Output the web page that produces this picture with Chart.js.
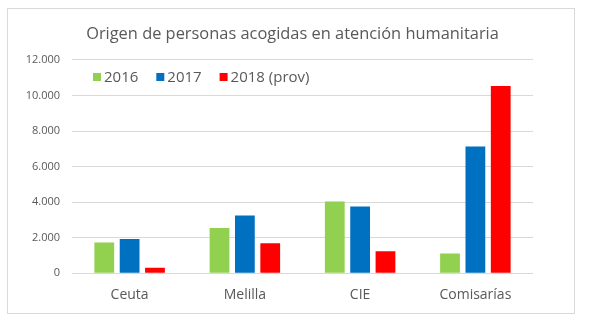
<!DOCTYPE html>
<html>
<head>
<meta charset="utf-8">
<script src="https://cdn.jsdelivr.net/npm/chart.js@4.4.1/dist/chart.umd.min.js"></script>
<style>
  html, body { margin: 0; padding: 0; background: #ffffff; }
  #wrap { position: relative; width: 589px; height: 326px; }
  #frame { position: absolute; left: 7px; top: 8px; width: 566px; height: 304px; border: 1px solid #d9d9d9; pointer-events: none; }
  canvas { position: absolute; left: 0; top: 0; }
</style>
</head>
<body>
<div id="wrap">
  <div id="frame"></div>
  <canvas id="c" width="589" height="326"></canvas>
</div>
<script>
const categories = ['Ceuta', 'Melilla', 'CIE', 'Comisarías'];
const seriesNames = ['2016', '2017', '2018 (prov)'];
const values2016 = [1730, 2540, 4040, 1110];
const values2017 = [1920, 3250, 3760, 7130];
const values2018 = [300, 1690, 1230, 10540];
const seriesColors = ['#92D050', '#0070C0', '#FF0000'];
const yMin = 0, yMax = 12000, yStep = 2000;

const FONT = "'Open Sans', sans-serif";
const TEXT = '#595959';

function fmt(v) {
  return Math.round(v).toString().replace(/\B(?=(\d{3})+(?!\d))/g, '.');
}

const insideLegend = {
  id: 'insideLegend',
  afterDraw(chart) {
    const ctx = chart.ctx;
    const area = chart.chartArea;
    ctx.save();
    ctx.font = '15px ' + FONT;
    ctx.textBaseline = 'middle';
    ctx.textAlign = 'left';
    let x = area.left + 21;
    const y = area.top + 17;
    chart.data.datasets.forEach(ds => {
      ctx.fillStyle = ds.backgroundColor;
      ctx.fillRect(x, y - 4, 8, 8);
      ctx.fillStyle = TEXT;
      ctx.fillText(ds.label, x + 11, y + 1);
      x += 11 + ctx.measureText(ds.label).width + 18;
    });
    ctx.restore();
  }
};

new Chart(document.getElementById('c'), {
  type: 'bar',
  data: {
    labels: categories,
    datasets: [
      { label: seriesNames[0], data: values2016, backgroundColor: seriesColors[0] },
      { label: seriesNames[1], data: values2017, backgroundColor: seriesColors[1] },
      { label: seriesNames[2], data: values2018, backgroundColor: seriesColors[2] }
    ]
  },
  options: {
    responsive: false,
    animation: false,
    devicePixelRatio: 1,
    layout: { padding: { left: 0, right: 4, top: 0, bottom: 10 } },
    datasets: { bar: { categoryPercentage: 0.66, barPercentage: 0.78 } },
    plugins: {
      legend: { display: false },
      tooltip: { enabled: false },
      title: {
        display: true,
        text: 'Origen de personas acogidas en atención humanitaria',
        color: TEXT,
        font: { family: FONT, size: 16.4, weight: 'normal' },
        padding: { top: 24, bottom: 16.3 }
      }
    },
    scales: {
      x: {
        grid: { display: false, drawTicks: false },
        border: { display: false },
        ticks: { color: TEXT, font: { family: FONT, size: 14 }, padding: 13 }
      },
      y: {
        min: yMin, max: yMax,
        afterFit(s) { s.width = 72; },
        grid: { color: '#d9d9d9', drawTicks: false, lineWidth: 1 },
        border: { display: false },
        ticks: {
          stepSize: yStep, color: TEXT, padding: 12,
          font: { family: FONT, size: 11 },
          callback: v => fmt(v)
        }
      },
      yRight: {
        position: 'right',
        afterFit(s) { s.width = 52; },
        grid: { display: false, drawTicks: false },
        border: { display: false },
        ticks: { display: false }
      }
    }
  },
  plugins: [insideLegend]
});
</script>
</body>
</html>
